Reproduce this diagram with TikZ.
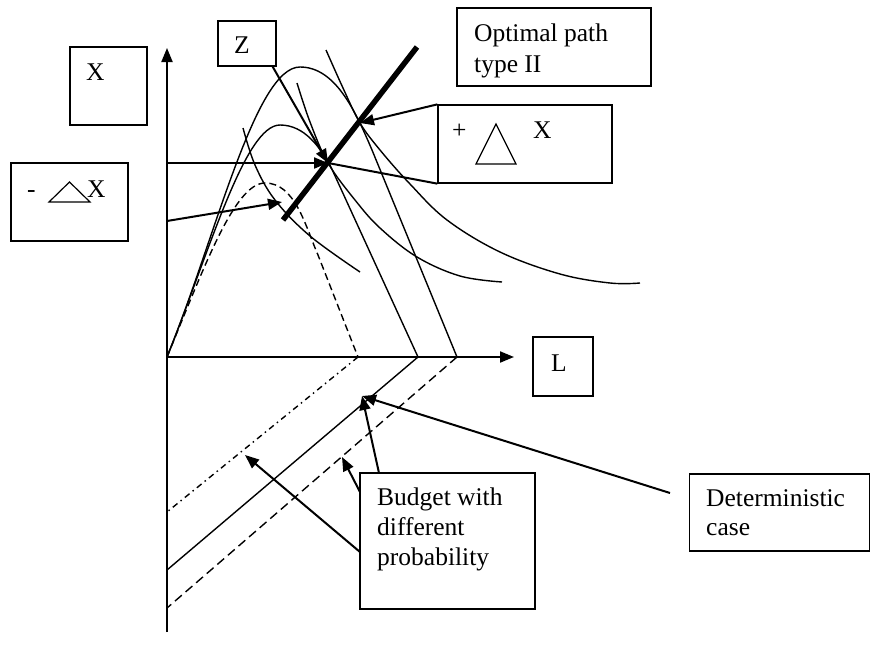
\documentclass[tikz,border=0pt]{standalone}
\usepackage{fontspec}
\setmainfont{Liberation Serif}
\usetikzlibrary{arrows.meta}
\begin{document}
\begin{tikzpicture}[x=1pt,y=-1pt,
  box/.style={draw, line width=1.3pt, rectangle, inner sep=0pt},
  txt/.style={anchor=base west, inner sep=0pt, font=\fontsize{25.5}{30}\selectfont},
  curve/.style={line width=1.4pt},
  axis/.style={line width=2pt, -{Triangle[length=14pt,width=11pt]}},
  pointer/.style={line width=2pt, -{Triangle[length=14pt,width=11pt]}},
  leader/.style={line width=2pt}
]
\useasboundingbox (0,0) rectangle (871,646);

% boxes
\node[box, minimum width=77pt, minimum height=78pt] (bX) at (108.5,86) {};
\node[box, minimum width=117pt, minimum height=78pt] (bMX) at (69.5,202) {};
\node[box, minimum width=58pt, minimum height=45pt] (bZ) at (247,43.5) {};
\node[box, minimum width=194pt, minimum height=78pt] (bOpt) at (554,47) {};
\node[box, minimum width=174pt, minimum height=78pt] (bPX) at (525,144) {};
\node[box, minimum width=60pt, minimum height=59pt] (bL) at (563,366.5) {};
\node[box, minimum width=175pt, minimum height=136pt] (bBud) at (447.5,541) {};
\node[box, minimum width=180pt, minimum height=77pt] (bDet) at (779.5,512.5) {};

% texts
\node[txt] (tX) at (86,80) {X};
\node[txt] (tMinus) at (27,197) {-};
\node[txt] (tMX) at (87,197) {X};
\draw[line width=1.2pt] (49,202) -- (90,202) -- (69.5,182) -- cycle;
\node[txt] (tZ) at (234,53) {Z};
\node[txt] (tOpt1) at (474,41) {Optimal path};
\node[txt] (tOpt2) at (474,72) {type II};
\node[txt] (tPlus) at (452,138) {+};
\draw[line width=1.2pt] (476,164) -- (516,164) -- (496,124) -- cycle;
\node[txt] (tPX) at (533,138) {X};
\node[txt] (tL) at (551,371) {L};
\node[txt] (tB1) at (377,505) {Budget with};
\node[txt] (tB2) at (377,535) {different};
\node[txt] (tB3) at (377,565) {probability};
\node[txt] (tD1) at (706,506) {Deterministic};
\node[txt] (tD2) at (706,535) {case};

% key points
\coordinate (O) at (167,357);
\coordinate (Ytop) at (167,48);
\coordinate (Ybot) at (167,632);
\coordinate (Xend) at (514,357);
\coordinate (Zp) at (328,163);
\coordinate (Up) at (360,123);
\coordinate (Lp) at (282,202);
\coordinate (A1) at (418,357);
\coordinate (A2) at (457,357);
\coordinate (A0) at (358,357);
\coordinate (B1) at (167,570);
\coordinate (B2) at (167,608);
\coordinate (B0) at (167,512);
\coordinate (Tip) at (362,396);
\coordinate (TipD) at (342,457);
\coordinate (TipC) at (245,455);
\coordinate (DetEnd) at (670,493);
\coordinate (YZ) at (167,163);
\coordinate (YL) at (167,221);
\coordinate (P1) at (283,220);
\coordinate (P2) at (417,47);
\coordinate (BudTop) at (379,473);
\coordinate (BudL1) at (360,492);
\coordinate (BudL2) at (360,552);

% axes
\draw[axis] (Ybot) -- (Ytop);
\draw[axis] (O) -- (Xend);

% production humps
\draw[curve] (O) .. controls (215,240) and (255,67) .. (300,67) .. controls (335,67) and (355,110) .. (372,150) -- (A2);
\draw[curve] (O) .. controls (210,250) and (245,125) .. (280,125) .. controls (305,125) and (320,148) .. (330,165) -- (A1);
\draw[curve, dash pattern=on 7pt off 4pt] (O) .. controls (205,265) and (235,183) .. (265,183) .. controls (295,183) and (305,225) .. (318,255) -- (A0);

% indifference curves
\draw[curve] plot[smooth, tension=0.6] coordinates {(243,128) (255,165) (275,200) (310,236) (360,272)};
\draw[curve] plot[smooth, tension=0.6] coordinates {(297,83) (310,122) (328,163) (355,200) (380,228) (417,257) (460,276) (502,282)};
\draw[curve] plot[smooth, tension=0.6] coordinates {(326,50) (343,88) (360,123) (380,150) (410,184) (447,220) (500,252) (560,274) (610,283) (640,283)};

% optimal path
\draw[line width=5.5pt] (P1) -- (P2);

% budget lines
\draw[curve] (A1) -- (B1);
\draw[curve, dash pattern=on 9pt off 5pt] (A2) -- (B2);
\draw[curve, dash pattern=on 6pt off 4pt on 1.5pt off 4pt] (A0) -- (B0);

% pointers
\draw[pointer] ([xshift=-4pt]bZ.south east) -- (Zp);
\draw[pointer] (YZ) -- (Zp);
\draw[pointer] (YL) -- (Lp);
\draw[pointer] (bPX.north west) -- (Up);
\draw[leader] (bPX.south west) -- (Zp);
\draw[pointer] (DetEnd) -- (Tip);
\draw[pointer] (BudTop) -- (Tip);
\draw[pointer] (BudL1) -- (TipD);
\draw[pointer] (BudL2) -- (TipC);
\end{tikzpicture}
\end{document}
